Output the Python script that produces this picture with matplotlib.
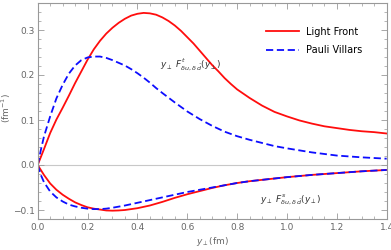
import numpy as np
import matplotlib.pyplot as plt
from matplotlib.ticker import MultipleLocator

# Light Front, F^t (upper red)
lf_t_x = [0.0, 0.025, 0.05, 0.075, 0.1, 0.125, 0.15, 0.175, 0.2, 0.225, 0.25, 0.275, 0.3,
          0.325, 0.35, 0.375, 0.4, 0.425, 0.45, 0.475, 0.5, 0.525, 0.55, 0.575, 0.6, 0.625,
          0.65, 0.675, 0.7, 0.725, 0.75, 0.775, 0.8, 0.85, 0.9, 0.95, 1.0, 1.05, 1.1, 1.15,
          1.2, 1.25, 1.3, 1.35, 1.4]
lf_t_y = [0.0, 0.035, 0.071, 0.101, 0.127, 0.154, 0.182, 0.208, 0.234, 0.257, 0.276, 0.292,
          0.305, 0.316, 0.325, 0.332, 0.336, 0.338, 0.337, 0.334, 0.328, 0.320, 0.310, 0.298,
          0.284, 0.270, 0.254, 0.238, 0.222, 0.208, 0.193, 0.180, 0.168, 0.149, 0.132, 0.118,
          0.108, 0.099, 0.092, 0.086, 0.082, 0.078, 0.075, 0.073, 0.070]

# Pauli Villars, F^t (upper blue)
pv_t_x = [0.0, 0.0125, 0.025, 0.05, 0.075, 0.1, 0.125, 0.15, 0.175, 0.2, 0.225, 0.25, 0.275,
          0.3, 0.325, 0.35, 0.375, 0.4, 0.425, 0.45, 0.475, 0.5, 0.55, 0.6, 0.65, 0.7, 0.75,
          0.8, 0.85, 0.9, 0.95, 1.0, 1.1, 1.2, 1.3, 1.4]
pv_t_y = [0.0, 0.033, 0.063, 0.108, 0.148, 0.178, 0.203, 0.221, 0.233, 0.239, 0.241, 0.241,
          0.238, 0.233, 0.227, 0.221, 0.213, 0.204, 0.194, 0.183, 0.171, 0.160, 0.139, 0.119,
          0.102, 0.087, 0.074, 0.064, 0.056, 0.049, 0.042, 0.037, 0.028, 0.021, 0.017, 0.014]

# Light Front, F^s (lower red)
lf_s_x = [0.0, 0.025, 0.05, 0.075, 0.1, 0.125, 0.15, 0.175, 0.2, 0.225, 0.25, 0.275, 0.3,
          0.325, 0.35, 0.375, 0.4, 0.45, 0.5, 0.55, 0.6, 0.65, 0.7, 0.75, 0.8, 0.85, 0.9,
          0.95, 1.0, 1.1, 1.2, 1.3, 1.4]
lf_s_y = [0.0, -0.022, -0.041, -0.055, -0.066, -0.075, -0.083, -0.089, -0.094, -0.097,
          -0.099, -0.101, -0.1015, -0.101, -0.100, -0.098, -0.096, -0.090, -0.082, -0.073,
          -0.065, -0.058, -0.051, -0.045, -0.040, -0.036, -0.033, -0.030, -0.027, -0.022,
          -0.018, -0.014, -0.011]

# Pauli Villars, F^s (lower blue)
pv_s_x = [0.0, 0.0125, 0.025, 0.05, 0.075, 0.1, 0.125, 0.15, 0.175, 0.2, 0.225, 0.25, 0.275,
          0.3, 0.35, 0.4, 0.45, 0.5, 0.55, 0.6, 0.65, 0.7, 0.75, 0.8, 0.85, 0.9, 0.95, 1.0,
          1.1, 1.2, 1.3, 1.4]
pv_s_y = [0.0, -0.022, -0.038, -0.059, -0.072, -0.081, -0.088, -0.092, -0.095, -0.097,
          -0.098, -0.098, -0.097, -0.095, -0.090, -0.084, -0.078, -0.072, -0.066, -0.060,
          -0.055, -0.050, -0.045, -0.040, -0.036, -0.033, -0.030, -0.027, -0.022, -0.018,
          -0.014, -0.011]

red = '#ff0d0d'
blue = '#0d0dff'
gray = '#999999'
dash = (0, (4, 2))

fig = plt.figure(figsize=(3.91, 2.5), dpi=100)
ax = fig.add_axes([37.7 / 391, 1 - 219 / 250, (386.7 - 37.7) / 391, (219 - 3) / 250])

ax.axhline(0, color='#c8c8c8', lw=0.8, zorder=1)

ax.plot(lf_t_x, lf_t_y, color=red, lw=1.3, label='Light Front')
ax.plot(pv_t_x, pv_t_y, color=blue, lw=1.3, ls=dash, label='Pauli Villars')
ax.plot(lf_s_x, lf_s_y, color=red, lw=1.3)
ax.plot(pv_s_x, pv_s_y, color=blue, lw=1.3, ls=dash)

ax.set_xlim(0, 1.4)
ax.set_ylim(-0.12, 0.36)
ax.xaxis.set_minor_locator(MultipleLocator(0.05))
ax.yaxis.set_minor_locator(MultipleLocator(0.02))
ax.set_xticks([0.0, 0.2, 0.4, 0.6, 0.8, 1.0, 1.2, 1.4])
ax.set_xticklabels(['0.0', '0.2', '0.4', '0.6', '0.8', '1.0', '1.2', '1.4'])
ax.set_yticks([-0.1, 0.0, 0.1, 0.2, 0.3])
ax.set_yticklabels(['\u22120.1', '0.0', '0.1', '0.2', '0.3'])

ax.tick_params(which='both', direction='in', top=True, right=True, color=gray,
               labelcolor='#666666', labelsize=6.5)
ax.tick_params(axis='y', pad=2)
ax.tick_params(axis='x', pad=3)
ax.tick_params(which='major', length=4, width=0.6)
ax.tick_params(which='minor', length=2, width=0.5)
for s in ax.spines.values():
    s.set_color(gray)
    s.set_linewidth(0.8)

ax.set_xlabel(r'$y_{\perp}$(fm)', fontsize=6.5, color='#666666', labelpad=2)
ax.set_ylabel(r'(fm$^{-1}$)', fontsize=6.5, color='#666666')
ax.yaxis.set_label_coords(-0.072, 0.514)

ax.text(0.492, 0.222, r'$y_{\perp}\ F^{t}_{\delta u,\delta\,\bar{d}}(y_{\perp})$',
        fontsize=6.5, color='#333333', ha='left', va='center')
ax.text(0.89, -0.078, r'$y_{\perp}\ F^{s}_{\delta u,\delta\,\bar{d}}(y_{\perp})$',
        fontsize=6.5, color='#333333', ha='left', va='center')

ax.legend(loc='upper left', bbox_to_anchor=(0.63, 0.93), frameon=False, fontsize=7,
          handlelength=3.4, handletextpad=0.7, labelspacing=0.85)

fig.savefig('out.png', dpi=100)
